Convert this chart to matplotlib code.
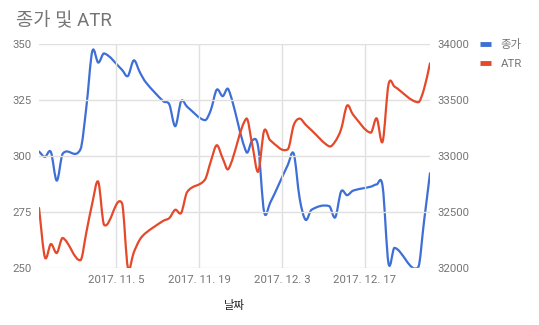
import numpy as np
import matplotlib
matplotlib.use("Agg")
import matplotlib.pyplot as plt
import matplotlib.dates as mdates
from matplotlib.path import Path
from matplotlib.patches import PathPatch
from matplotlib.lines import Line2D
from matplotlib.ticker import FixedLocator, FuncFormatter

plt.rcParams['font.family'] = ['Roboto', 'Noto Sans CJK KR', 'DejaVu Sans']

# ---------------- data ----------------
dates = [
    '2017-10-23', '2017-10-24', '2017-10-25', '2017-10-26', '2017-10-27',
    '2017-10-30', '2017-10-31', '2017-11-01', '2017-11-02', '2017-11-03',
    '2017-11-06', '2017-11-07', '2017-11-08', '2017-11-09', '2017-11-10',
    '2017-11-13', '2017-11-14', '2017-11-15', '2017-11-16', '2017-11-17',
    '2017-11-20', '2017-11-21', '2017-11-22', '2017-11-23', '2017-11-24',
    '2017-11-27', '2017-11-28', '2017-11-29', '2017-11-30', '2017-12-01',
    '2017-12-04', '2017-12-05', '2017-12-06', '2017-12-07', '2017-12-08',
    '2017-12-11', '2017-12-12', '2017-12-13', '2017-12-14', '2017-12-15',
    '2017-12-18', '2017-12-19', '2017-12-20', '2017-12-21', '2017-12-22',
    '2017-12-26', '2017-12-27', '2017-12-28',
]
close = [
    302.0, 299.6, 301.8, 289.0, 301.0,
    303.0, 322.0, 346.8, 341.7, 345.8,
    338.5, 335.7, 342.7, 337.5, 333.0,
    324.4, 323.0, 313.3, 324.5, 322.0,
    316.0, 320.5, 329.6, 326.7, 329.6,
    301.8, 307.0, 304.0, 275.0, 279.0,
    296.0, 301.0, 281.0, 271.5, 276.0,
    277.6, 272.6, 284.2, 282.5, 284.5,
    286.3, 287.3, 286.5, 252.0, 259.0,
    250.3, 271.0, 292.3,
]
atr = [
    32536, 32096, 32214, 32134, 32268,
    32070, 32320, 32580, 32770, 32384,
    32580, 32004, 32140, 32252, 32312,
    32422, 32446, 32520, 32492, 32678,
    32788, 32952, 33096, 32980, 32886,
    33334, 33100, 32860, 33226, 33142,
    33060, 33276, 33334, 33280, 33230,
    33086, 33130, 33240, 33450, 33370,
    33208, 33336, 33128, 33640, 33620,
    33480, 33600, 33828,
]
tick_dates = ['2017-11-05', '2017-11-19', '2017-12-03', '2017-12-17']
left_ticks = [250, 275, 300, 325, 350]
right_ticks = [32000, 32500, 33000, 33500, 34000]
series_labels = ['종가', 'ATR']
title = '종가 및 ATR'
xlabel = '날짜'

# ---------------- style ----------------
BLUE = '#3e6fd6'
RED = '#e5492a'
GRID = '#e0e0e0'
TXT = '#757575'

x = mdates.date2num(np.array(dates, dtype='datetime64[D]').astype('O'))
xt = mdates.date2num(np.array(tick_dates, dtype='datetime64[D]').astype('O'))


def smooth_path(xs, ys):
    xs = np.asarray(xs, float)
    ys = np.asarray(ys, float)
    n = len(xs)
    m = np.zeros(n)
    for i in range(n):
        a = max(i - 1, 0)
        b = min(i + 1, n - 1)
        m[i] = (ys[b] - ys[a]) / (xs[b] - xs[a])
    verts = [(xs[0], ys[0])]
    codes = [Path.MOVETO]
    for i in range(n - 1):
        h = xs[i + 1] - xs[i]
        verts += [(xs[i] + h / 3, ys[i] + m[i] * h / 3),
                  (xs[i + 1] - h / 3, ys[i + 1] - m[i + 1] * h / 3),
                  (xs[i + 1], ys[i + 1])]
        codes += [Path.CURVE4] * 3
    return Path(verts, codes)


fig = plt.figure(figsize=(5.39, 3.25), dpi=100)
ax = fig.add_axes([39 / 539, 1 - 268 / 325, (430 - 39) / 539, (268 - 44) / 325])
ax2 = ax.twinx()

ax.set_xlim(x[0], x[-1])
ax.set_ylim(250, 350)
ax2.set_ylim(32000, 34000)

for a in (ax, ax2):
    for s in a.spines.values():
        s.set_visible(False)
    a.set_facecolor('none')
ax.set_zorder(1)
ax2.set_zorder(2)

ax.xaxis.set_major_locator(FixedLocator(xt))
ax.xaxis.set_major_formatter(FuncFormatter(
    lambda v, p: (lambda d: f"{d.year}. {d.month}. {d.day}")(mdates.num2date(v))))
ax.set_yticks(left_ticks)
ax2.set_yticks(right_ticks)

ax.grid(True, color=GRID, linewidth=1.0)
ax.tick_params(axis='both', length=0, colors=TXT, labelsize=8.2)
ax2.tick_params(axis='y', length=0, colors=TXT, labelsize=8.2, pad=5)
ax.tick_params(axis='y', pad=5)
ax.tick_params(axis='x', pad=5)

ax.add_patch(PathPatch(smooth_path(x, close), facecolor='none', edgecolor=BLUE,
                       linewidth=1.6, capstyle='round', joinstyle='round'))
ax2.add_patch(PathPatch(smooth_path(x, atr), facecolor='none', edgecolor=RED,
                        linewidth=1.6, capstyle='round', joinstyle='round'))

ax.set_xlabel(xlabel, color='#222222', fontsize=8.2, labelpad=11)

fig.text(16 / 539, 1 - 21 / 325, title, fontsize=13.5, color=TXT, va='center', ha='left')

handles = [Line2D([], [], color=BLUE, linewidth=3.5, solid_capstyle='butt'),
           Line2D([], [], color=RED, linewidth=3.5, solid_capstyle='butt')]
fig.legend(handles, series_labels, loc='upper left', bbox_to_anchor=(480 / 539, 1 - 39 / 325),
           frameon=False, handlelength=1.0, handletextpad=0.8, labelspacing=0.75,
           fontsize=8.2, labelcolor=TXT, borderaxespad=0, borderpad=0)

fig.savefig('out.png', dpi=100)
